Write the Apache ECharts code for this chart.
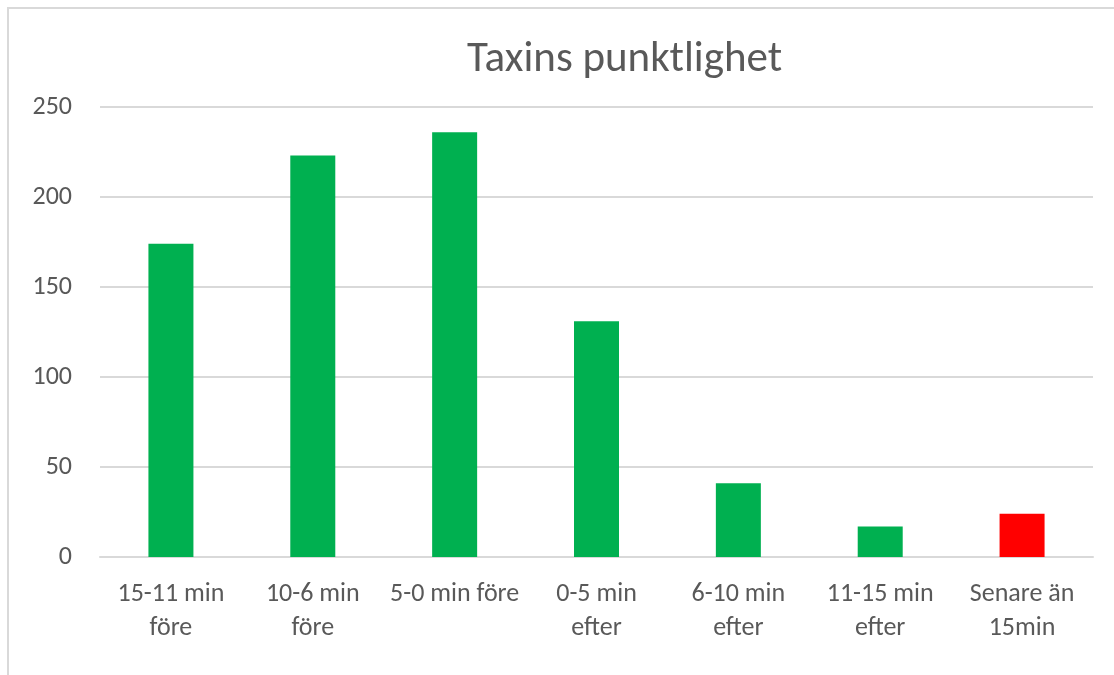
<!DOCTYPE html>
<html>
<head>
<meta charset="utf-8">
<script src="https://cdn.jsdelivr.net/npm/echarts@6/dist/echarts.min.js"></script>
<style>
  html, body { margin: 0; padding: 0; background: #fff; }
  #frame {
    position: absolute; left: 7px; top: 7px; width: 1120px; height: 680px;
    border: 2px solid #d9d9d9; box-sizing: border-box;
  }
  #chart { position: absolute; left: 0; top: 0; width: 1114px; height: 675px; }
</style>
</head>
<body>
<div id="frame"></div>
<div id="chart"></div>
<script>
const categories = ['15-11 min\nföre', '10-6 min\nföre', '5-0 min före', '0-5 min\nefter', '6-10 min\nefter', '11-15 min\nefter', 'Senare än\n15min']
const values = [174, 223, 236, 131, 41, 17, 24]
const barColors = ['#00b050', '#00b050', '#00b050', '#00b050', '#00b050', '#00b050', '#ff0000']

const chart = echarts.init(document.getElementById('chart'))
const font = 'Carlito, "Open Sans", "Noto Sans", sans-serif'

chart.setOption({
  animation: false,
  backgroundColor: 'transparent',
  title: {
    text: 'Taxins punktlighet',
    left: 462,
    top: 34,
    textStyle: { color: '#595959', fontSize: 43, fontWeight: 'normal', fontFamily: font },
  },
  grid: { left: 100, right: 21, top: 107, bottom: 118 },
  xAxis: {
    type: 'category',
    data: categories,
    axisLine: { lineStyle: { color: '#d9d9d9', width: 2 } },
    axisTick: { show: false },
    axisLabel: {
      color: '#595959', fontSize: 26, fontFamily: font,
      lineHeight: 34, margin: 20, interval: 0,
    },
  },
  yAxis: {
    type: 'value',
    min: 0, max: 250, interval: 50,
    axisLine: { show: false },
    axisTick: { show: false },
    axisLabel: { color: '#595959', fontSize: 26, fontFamily: font, margin: 28 },
    splitLine: { lineStyle: { color: '#d9d9d9', width: 2 } },
  },
  series: [{
    type: 'bar',
    barWidth: 45,
    data: values.map((v, i) => ({ value: v, itemStyle: { color: barColors[i] } })),
  }],
})
</script>
</body>
</html>
